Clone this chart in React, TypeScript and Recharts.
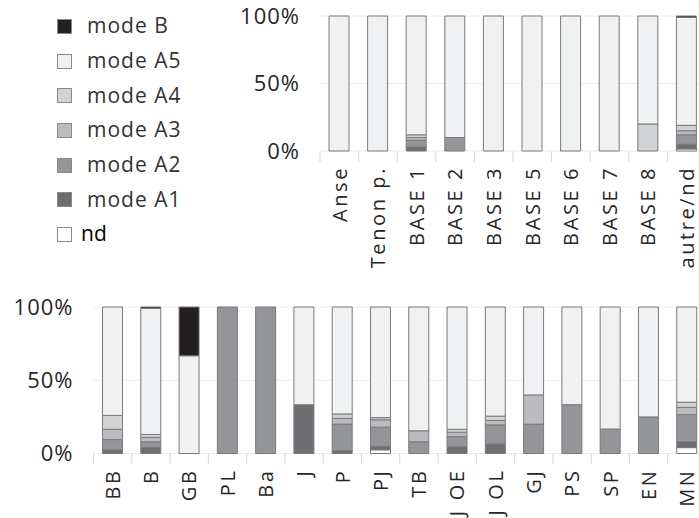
import { Bar, BarChart, CartesianGrid, XAxis, YAxis } from "recharts";

// stack order, bottom to top
const seriesKeys = ["nd", "A1", "A2", "A3", "A4", "A5", "B"];
const seriesNames = ["nd", "mode A1", "mode A2", "mode A3", "mode A4", "mode A5", "mode B"];
const seriesColors = ["#ffffff", "#6d6e71", "#939598", "#bbbcbf", "#d1d2d4", "#f0f1f3", "#231f20"];

const topCategories = ["Anse", "Tenon p.", "BASE 1", "BASE 2", "BASE 3", "BASE 5", "BASE 6", "BASE 7", "BASE 8", "autre/nd"];
const topNd = [0, 0, 0, 0, 0, 0, 0, 0, 0, 1.5];
const topA1 = [0, 0, 3, 0, 0, 0, 0, 0, 0, 3.5];
const topA2 = [0, 0, 5, 10, 0, 0, 0, 0, 0, 7];
const topA3 = [0, 0, 2, 0, 0, 0, 0, 0, 0, 3];
const topA4 = [0, 0, 2, 0, 0, 0, 0, 0, 20, 4];
const topA5 = [100, 100, 88, 90, 100, 100, 100, 100, 80, 80];
const topB = [0, 0, 0, 0, 0, 0, 0, 0, 0, 1];

const bottomCategories = ["BB", "B", "GB", "PL", "Ba", "J", "P", "PJ", "TB", "J OE", "J OL", "GJ", "PS", "SP", "EN", "MN"];
const bottomNd = [0, 0, 0, 0, 0, 0, 0, 2.5, 0, 0, 0, 0, 0, 0, 0, 4];
const bottomA1 = [2.5, 4, 0, 0, 0, 33.3, 2, 2.5, 0, 4.5, 6.5, 0, 0, 0, 0, 4];
const bottomA2 = [7, 4, 0, 100, 100, 0, 18, 13, 8, 7, 13, 20, 33.3, 16.7, 25, 18.5];
const bottomA3 = [7, 3, 0, 0, 0, 0, 4, 5, 7.5, 3, 3, 20, 0, 0, 0, 5];
const bottomA4 = [9.5, 2, 0, 0, 0, 0, 3, 1.5, 0, 2, 3, 0, 0, 0, 0, 3.5];
const bottomA5 = [74, 86, 66.7, 0, 0, 66.7, 73, 75.5, 84.5, 83.5, 74.5, 60, 66.7, 83.3, 75, 65];
const bottomB = [0, 1, 33.3, 0, 0, 0, 0, 0, 0, 0, 0, 0, 0, 0, 0, 0];

const yTicks = [0, 50, 100];

const FONT = "'Open Sans', sans-serif";

function build(cats: string[], cols: number[][]) {
  return cats.map((name, i) => {
    const row: Record<string, string | number> = { name };
    seriesKeys.forEach((k, j) => (row[k] = cols[j][i]));
    return row;
  });
}

const topData = build(topCategories, [topNd, topA1, topA2, topA3, topA4, topA5, topB]);
const bottomData = build(bottomCategories, [bottomNd, bottomA1, bottomA2, bottomA3, bottomA4, bottomA5, bottomB]);

function makeTick(half: number, count: number) {
  return (props: any) => {
    const { x, y, payload, index } = props;
    return (
      <g>
        <line x1={x - half} y1={y} x2={x - half} y2={y + 11} stroke="#d9d9d9" />
        {index === count - 1 && <line x1={x + half} y1={y} x2={x + half} y2={y + 11} stroke="#d9d9d9" />}
        <g transform={`translate(${x},${y + 15}) rotate(-90)`}>
          <text textAnchor="end" dy="0.36em" fontSize={20} letterSpacing={2.6} fill="#262626" fontFamily={FONT}>
            {payload.value}
          </text>
        </g>
      </g>
    );
  };
}

function Stacked({
  data,
  width,
  height,
  yWidth,
  top,
  xHeight,
}: {
  data: Record<string, string | number>[];
  width: number;
  height: number;
  yWidth: number;
  top: number;
  xHeight: number;
}) {
  const plotW = width - yWidth - 14;
  const half = plotW / data.length / 2;
  return (
    <BarChart width={width} height={height} data={data} margin={{ top, right: 14, left: 0, bottom: 0 }} barSize={20}>
      <CartesianGrid vertical={false} stroke="#ececec" />
      <XAxis
        dataKey="name"
        interval={0}
        axisLine={false}
        tickLine={false}
        tickSize={0}
        tickMargin={0}
        height={xHeight}
        tick={makeTick(half, data.length)}
      />
      <YAxis
        domain={[0, 100]}
        ticks={yTicks}
        width={yWidth}
        axisLine={false}
        tickLine={false}
        tickSize={0}
        tickMargin={20}
        tickFormatter={(v) => `${v}%`}
        tick={{ fill: "#262626", fontSize: 22, letterSpacing: 1, fontFamily: FONT }}
      />
      {seriesKeys.map((k, i) => (
        <Bar key={k} dataKey={k} stackId="s" fill={seriesColors[i]} stroke="#7a7a7a" strokeWidth={1} isAnimationActive={false} />
      ))}
    </BarChart>
  );
}

export default function App() {
  const legend = seriesKeys.map((k, i) => ({ key: k, name: seriesNames[i], color: seriesColors[i] })).reverse();
  return (
    <div style={{ position: "fixed", left: 0, top: 0, width: 699, height: 518, overflow: "hidden", background: "#fff", fontFamily: FONT }}>
      <div style={{ position: "absolute", left: 57, top: 18 }}>
        {legend.map((l) => (
          <div key={l.key} style={{ display: "flex", alignItems: "center", height: 34.7 }}>
            <div style={{ width: 15, height: 15, boxSizing: "border-box", background: l.color, border: "1px solid #8a8a8a", marginTop: -18 }} />
            <span
              style={{
                fontSize: 21,
                letterSpacing: l.key === "nd" ? 0 : 1,
                color: l.key === "nd" ? "#000" : "#333",
                marginLeft: l.key === "nd" ? 9 : 15,
                marginTop: -19,
                lineHeight: "21px",
              }}
            >
              {l.name}
            </span>
          </div>
        ))}
      </div>
      <div style={{ position: "absolute", left: 220, top: 0 }}>
        <Stacked data={topData} width={500} height={290} yWidth={100} top={16} xHeight={139} />
      </div>
      <div style={{ position: "absolute", left: 0, top: 290 }}>
        <Stacked data={bottomData} width={720} height={228} yWidth={93.5} top={17} xHeight={64.5} />
      </div>
    </div>
  );
}
